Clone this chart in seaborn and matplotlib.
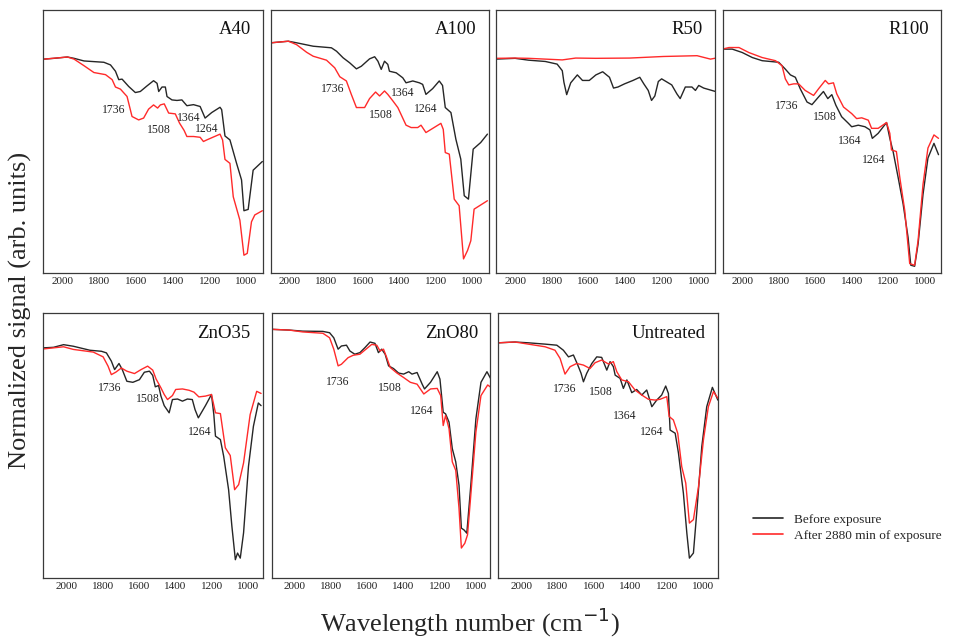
import matplotlib
matplotlib.use("Agg")
import pandas as pd
import seaborn as sns
from matplotlib import pyplot as plt
from matplotlib.lines import Line2D

sns.set_style("white")
plt.rcParams.update({
    "font.family": ["Liberation Serif", "DejaVu Serif"],
    "axes.edgecolor": "#3a3a3a",
    "axes.linewidth": 0.9,
})

BEFORE = "Before exposure"
AFTER = "After 2880 min of exposure"
COLORS = {BEFORE: "#262626", AFTER: "#ff2a2a"}
TICKS = [2000, 1800, 1600, 1400, 1200, 1000]

# A40
A40_B_WN = [2100, 2045, 1973, 1937, 1883, 1775, 1739, 1712, 1694, 1676, 1640, 1604, 1577, 1541, 1505, 1486, 1477, 1459, 1441, 1432,
            1405, 1378, 1351, 1324, 1288, 1252, 1225, 1189, 1144, 1135, 1117, 1090, 1054, 1027, 1014, 991, 964, 914]
A40_B = [81.2, 81.5, 82.0, 81.5, 80.5, 80.0, 79.0, 76.6, 73.4, 73.6, 70.8, 68.5, 68.9, 71.0, 73.0, 72.0, 68.9, 70.6, 70.6, 67.0,
         65.7, 65.5, 65.7, 63.5, 63.9, 63.2, 58.8, 60.9, 62.9, 62.0, 52.0, 50.5, 41.6, 35.3, 23.6, 24.1, 39.0, 42.3]
A40_A_WN = [2100, 1973, 1937, 1883, 1829, 1766, 1730, 1712, 1685, 1649, 1622, 1586, 1559, 1532, 1505, 1483, 1468, 1447, 1423, 1387,
            1364, 1339, 1324, 1288, 1252, 1234, 1216, 1144, 1130, 1117, 1090, 1072, 1036, 1014, 996, 973, 955, 914]
A40_A = [81.2, 82.0, 81.2, 78.7, 76.1, 75.3, 73.4, 70.6, 69.8, 67.0, 59.4, 58.1, 58.8, 62.2, 63.8, 62.6, 63.8, 64.2, 60.7, 60.4,
         56.9, 54.1, 51.8, 51.8, 51.5, 49.9, 50.5, 52.7, 50.5, 43.1, 41.6, 28.9, 20.0, 6.7, 7.4, 19.4, 22.0, 23.6]
A40_LBL = ["1736", "1364", "1508", "1264"]
A40_LBL_WN = [1721, 1315, 1477, 1216]
A40_LBL_Y = [62, 59, 54.3, 54.6]

# A100
A100_B_WN = [2104, 2009, 1964, 1873, 1773, 1745, 1709, 1673, 1636, 1609, 1564, 1536, 1518, 1500, 1482, 1464, 1455, 1418, 1382, 1364,
             1327, 1291, 1273, 1255, 1218, 1182, 1164, 1149, 1118, 1091, 1064, 1045, 1022, 996, 955, 918]
A100_B = [87.4, 88.0, 87.4, 86.1, 85.5, 84.2, 81.7, 79.8, 77.5, 78.5, 81.3, 82.1, 80.4, 77.3, 80.4, 79.2, 76.6, 76.0, 74.1, 72.2,
          72.9, 72.2, 71.6, 67.8, 70.0, 72.9, 71.2, 62.8, 60.9, 50.8, 43.2, 29.3, 28.0, 47.0, 49.5, 52.7]
A100_A_WN = [2104, 2009, 1964, 1909, 1873, 1800, 1755, 1727, 1691, 1664, 1636, 1591, 1564, 1531, 1509, 1482, 1464, 1436, 1409, 1364,
             1336, 1300, 1282, 1255, 1173, 1160, 1149, 1127, 1100, 1073, 1049, 1027, 1009, 991, 918]
A100_A = [87.4, 88.0, 86.7, 83.8, 82.3, 80.8, 77.9, 74.5, 72.9, 67.8, 62.8, 62.8, 66.2, 68.7, 67.2, 69.1, 67.8, 65.3, 62.8, 56.1,
          55.2, 55.2, 56.1, 53.3, 56.8, 54.5, 45.7, 45.1, 28.0, 25.5, 5.3, 8.5, 12.2, 24.2, 27.4]
A100_LBL = ["1736", "1364", "1508", "1264"]
A100_LBL_WN = [1764, 1382, 1500, 1258]
A100_LBL_Y = [70, 68.2, 59.8, 62.4]

# R50
R50_B_WN = [2105, 2000, 1927, 1835, 1771, 1743, 1734, 1719, 1697, 1661, 1633, 1596, 1560, 1523, 1486, 1464, 1440, 1404, 1358, 1321,
            1299, 1275, 1257, 1239, 1220, 1202, 1147, 1119, 1101, 1073, 1037, 1018, 1000, 973, 899]
R50_B = [81.2, 81.5, 80.8, 80.3, 79.3, 76.8, 72.4, 67.7, 72.2, 75.2, 73.1, 73.1, 75.2, 76.4, 74.3, 70.2, 70.6, 71.8, 73.1, 74.3,
         71.8, 69.3, 65.5, 67.2, 72.7, 73.7, 71.4, 68.0, 66.2, 70.6, 70.6, 69.3, 71.2, 70.2, 68.7]
R50_A_WN = [2105, 2000, 1927, 1743, 1670, 1560, 1376, 1193, 1009, 936, 899]
R50_A = [81.5, 81.6, 81.5, 80.9, 81.6, 81.5, 81.6, 82.2, 82.5, 81.2, 81.7]
R50_LBL = []
R50_LBL_WN = []
R50_LBL_Y = []

# R100
R100_B_WN = [2109, 2055, 2000, 1945, 1891, 1800, 1764, 1736, 1709, 1682, 1645, 1618, 1582, 1555, 1531, 1509, 1487, 1455, 1418, 1400,
             1364, 1327, 1300, 1287, 1255, 1209, 1191, 1173, 1145, 1118, 1091, 1076, 1055, 1036, 1009, 982, 949, 924]
R100_B = [85.0, 85.0, 83.7, 81.8, 80.6, 80.0, 77.4, 75.2, 74.3, 69.9, 64.9, 63.9, 66.8, 68.9, 66.2, 67.7, 63.7, 59.3, 56.8, 55.5,
          56.1, 55.5, 54.3, 51.1, 53.0, 57.1, 51.1, 46.1, 36.1, 26.1, 13.5, 2.9, 2.5, 11.0, 29.8, 43.6, 49.2, 44.9]
R100_A_WN = [2109, 2073, 2018, 1964, 1891, 1818, 1782, 1764, 1745, 1718, 1691, 1655, 1609, 1582, 1545, 1527, 1500, 1482, 1445, 1400,
             1373, 1345, 1309, 1291, 1255, 1209, 1191, 1182, 1155, 1136, 1109, 1082, 1055, 1036, 1009, 982, 949, 924]
R100_A = [85.0, 85.6, 85.6, 83.7, 81.8, 80.6, 78.7, 73.7, 71.4, 71.8, 71.8, 69.3, 67.4, 69.9, 73.1, 71.8, 72.2, 68.0, 63.0, 60.5,
          58.6, 58.9, 58.0, 54.9, 54.9, 57.1, 53.0, 46.7, 46.1, 36.1, 23.6, 3.5, 2.9, 12.3, 33.6, 47.4, 52.4, 51.1]
R100_LBL = ["1736", "1508", "1364", "1264"]
R100_LBL_WN = [1755, 1545, 1413, 1282]
R100_LBL_Y = [63.4, 59.3, 50.1, 43]

# ZnO35
ZNO35_B_WN = [2123, 2069, 2014, 1960, 1870, 1806, 1779, 1752, 1734, 1710, 1692, 1667, 1634, 1598, 1571, 1543, 1525, 1511, 1493, 1480,
              1462, 1435, 1417, 1389, 1362, 1335, 1308, 1293, 1275, 1236, 1203, 1190, 1181, 1154, 1136, 1109, 1091, 1072, 1060, 1045,
              1027, 1000, 973, 946, 931]
ZNO35_B = [86.8, 87.0, 88.0, 87.4, 85.9, 85.5, 84.9, 81.8, 78.6, 80.9, 78.6, 74.2, 73.8, 74.8, 77.6, 78.0, 76.4, 72.1, 72.6, 68.6,
           65.0, 62.3, 67.3, 67.5, 66.7, 67.5, 67.3, 63.5, 60.4, 65.0, 69.2, 61.6, 53.5, 52.2, 45.9, 33.3, 19.5, 6.9, 9.4, 7.5,
           17.0, 42.1, 57.2, 66.0, 65.0]
ZNO35_A_WN = [2123, 2014, 1960, 1851, 1797, 1770, 1752, 1728, 1697, 1667, 1625, 1589, 1553, 1525, 1507, 1480, 1462, 1444, 1417, 1399,
              1362, 1326, 1299, 1272, 1236, 1203, 1181, 1154, 1127, 1100, 1076, 1054, 1027, 991, 955, 931]
ZNO35_A = [86.4, 87.2, 86.2, 85.2, 83.4, 79.9, 76.7, 77.6, 79.2, 78.0, 77.1, 78.6, 79.9, 78.4, 75.1, 71.7, 69.2, 67.3, 68.8, 71.1,
           71.3, 70.8, 70.1, 68.3, 68.6, 69.2, 62.3, 62.0, 49.1, 46.2, 33.3, 35.2, 43.4, 61.6, 70.4, 69.6]
ZNO35_LBL = ["1736", "1508", "1264"]
ZNO35_LBL_WN = [1761, 1553, 1266]
ZNO35_LBL_Y = [71.7, 67.5, 55]

# ZnO80
ZNO80_B_WN = [2130, 2028, 1954, 1843, 1806, 1783, 1759, 1741, 1713, 1694, 1667, 1639, 1611, 1583, 1556, 1537, 1519, 1500, 1481, 1454,
              1426, 1398, 1370, 1352, 1324, 1296, 1283, 1250, 1213, 1198, 1180, 1167, 1148, 1130, 1111, 1093, 1080, 1065, 1050, 1028,
              1000, 972, 939, 917]
ZNO80_B = [93.8, 93.5, 93.1, 93.0, 92.5, 90.6, 86.3, 87.5, 87.8, 85.6, 84.4, 85.0, 86.9, 89.0, 88.5, 85.0, 86.3, 84.4, 80.0, 79.0,
           77.3, 76.9, 77.8, 76.9, 77.5, 73.1, 71.3, 73.8, 77.8, 75.0, 62.5, 61.9, 58.8, 48.8, 43.8, 35.0, 18.8, 18.1, 16.9, 35.0,
           60.0, 73.8, 77.8, 75.0]
ZNO80_A_WN = [2130, 2028, 1954, 1843, 1806, 1783, 1759, 1741, 1704, 1676, 1639, 1602, 1574, 1546, 1528, 1509, 1491, 1472, 1435, 1398,
              1361, 1324, 1287, 1250, 1213, 1194, 1180, 1167, 1148, 1130, 1111, 1093, 1080, 1061, 1046, 1028, 1000, 972, 935, 917]
ZNO80_A = [93.8, 93.5, 92.8, 92.3, 90.6, 86.3, 80.0, 80.6, 83.1, 84.0, 84.4, 86.5, 88.1, 87.8, 85.6, 86.3, 83.1, 79.4, 77.3, 75.6,
           73.8, 73.1, 69.4, 71.3, 71.5, 68.8, 57.5, 61.3, 56.3, 43.8, 40.6, 26.3, 11.3, 13.1, 16.3, 31.3, 55.0, 68.8, 72.8, 71.9]
ZNO80_LBL = ["1736", "1508", "1264"]
ZNO80_LBL_WN = [1759, 1476, 1296]
ZNO80_LBL_Y = [73.8, 71.5, 63]

# Untreated
UNT_B_WN = [2124, 2033, 1960, 1868, 1804, 1768, 1740, 1713, 1689, 1671, 1658, 1640, 1612, 1585, 1558, 1530, 1512, 1494, 1484, 1457,
            1439, 1420, 1393, 1366, 1338, 1311, 1283, 1256, 1229, 1207, 1192, 1183, 1155, 1137, 1110, 1091, 1077, 1055, 1037, 1009,
            982, 951, 921]
UNT_B = [88.7, 89.0, 88.7, 88.2, 87.8, 85.9, 83.4, 84.1, 80.3, 77.2, 74.0, 77.2, 80.9, 83.4, 83.2, 78.4, 81.6, 79.7, 76.5, 75.3,
         71.5, 74.7, 69.9, 71.1, 69.0, 70.9, 64.6, 67.1, 69.0, 72.4, 69.6, 55.8, 54.6, 47.1, 32.0, 16.9, 7.5, 9.4, 24.5, 49.6,
         64.6, 71.9, 67.1]
UNT_A_WN = [2124, 2033, 1960, 1868, 1814, 1786, 1759, 1731, 1695, 1658, 1622, 1594, 1558, 1521, 1494, 1475, 1448, 1411, 1375, 1338,
            1302, 1265, 1238, 1201, 1188, 1165, 1141, 1119, 1097, 1077, 1055, 1027, 1000, 973, 945, 921]
UNT_A = [88.7, 89.0, 88.2, 87.2, 85.9, 82.8, 76.9, 79.7, 80.9, 80.3, 79.0, 81.2, 82.2, 80.7, 81.6, 77.8, 74.7, 74.0, 70.9, 69.0,
         67.4, 67.1, 67.4, 68.4, 60.9, 59.6, 54.6, 42.0, 35.8, 20.7, 22.0, 34.5, 52.1, 64.6, 70.3, 67.8]
UNT_LBL = ["1736", "1508", "1364", "1264"]
UNT_LBL_WN = [1759, 1561, 1430, 1283]
UNT_LBL_Y = [71.1, 70.3, 61.1, 55.2]

PANELS = [
    ("A40", A40_B_WN, A40_B, A40_A_WN, A40_A, A40_LBL, A40_LBL_WN, A40_LBL_Y),
    ("A100", A100_B_WN, A100_B, A100_A_WN, A100_A, A100_LBL, A100_LBL_WN, A100_LBL_Y),
    ("R50", R50_B_WN, R50_B, R50_A_WN, R50_A, R50_LBL, R50_LBL_WN, R50_LBL_Y),
    ("R100", R100_B_WN, R100_B, R100_A_WN, R100_A, R100_LBL, R100_LBL_WN, R100_LBL_Y),
    ("ZnO35", ZNO35_B_WN, ZNO35_B, ZNO35_A_WN, ZNO35_A, ZNO35_LBL, ZNO35_LBL_WN, ZNO35_LBL_Y),
    ("ZnO80", ZNO80_B_WN, ZNO80_B, ZNO80_A_WN, ZNO80_A, ZNO80_LBL, ZNO80_LBL_WN, ZNO80_LBL_Y),
    ("Untreated", UNT_B_WN, UNT_B, UNT_A_WN, UNT_A, UNT_LBL, UNT_LBL_WN, UNT_LBL_Y),
]

# axes boxes in figure fraction [left, bottom, width, height]
BOXES = [
    [0.0453, 0.575, 0.2295, 0.410],
    [0.2835, 0.575, 0.2275, 0.410],
    [0.5188, 0.575, 0.2290, 0.410],
    [0.7566, 0.575, 0.2274, 0.410],
    [0.0453, 0.0997, 0.2295, 0.413],
    [0.2842, 0.0997, 0.2284, 0.413],
    [0.5212, 0.0997, 0.2295, 0.413],
]
XLIM_TOP = (2104, 912)
XLIM_BOTTOM = (2125, 922)

fig = plt.figure(figsize=(9.56, 6.42), dpi=100)

for i, (name, b_wn, b_sig, a_wn, a_sig, lbl, lbl_wn, lbl_y) in enumerate(PANELS):
    ax = fig.add_axes(BOXES[i])
    df = pd.concat([
        pd.DataFrame({"wn": b_wn, "signal": b_sig, "Sample": BEFORE}),
        pd.DataFrame({"wn": a_wn, "signal": a_sig, "Sample": AFTER}),
    ], ignore_index=True)
    sns.lineplot(data=df, x="wn", y="signal", hue="Sample", hue_order=[BEFORE, AFTER],
                 palette=COLORS, estimator=None, linewidth=1.0, legend=False, ax=ax)
    ax.set_xlim(XLIM_TOP if i < 4 else XLIM_BOTTOM)
    ax.set_ylim(0, 100)
    ax.set_xticks(TICKS)
    ax.set_yticks([])
    ax.tick_params(axis="x", length=0, labelsize=8, pad=3, colors="#222222")
    ax.set_xlabel("")
    ax.set_ylabel("")
    for spine in ax.spines.values():
        spine.set_visible(True)
    ax.text(0.945, 0.955, name, transform=ax.transAxes, ha="right", va="top", fontsize=13.5, color="#111111")
    for t, xw, yv in zip(lbl, lbl_wn, lbl_y):
        ax.text(xw, yv, t, ha="center", va="center", fontsize=8.5, color="#222222")

fig.text(0.021, 0.517, "Normalized signal (arb. units)", rotation=90, ha="center", va="center", fontsize=19)
fig.text(0.492, 0.03, "Wavelength number (cm$^{-1}$)", ha="center", va="center", fontsize=19)

handles = [Line2D([0], [0], color=COLORS[BEFORE], lw=1.2), Line2D([0], [0], color=COLORS[AFTER], lw=1.2)]
fig.legend(handles, [BEFORE, AFTER], loc="center left", bbox_to_anchor=(0.778, 0.178), frameon=False,
           fontsize=9.5, handlelength=2.3, handletextpad=0.8, labelspacing=0.25, borderpad=0.2)

plt.savefig("out.png", dpi=100)
plt.close()
